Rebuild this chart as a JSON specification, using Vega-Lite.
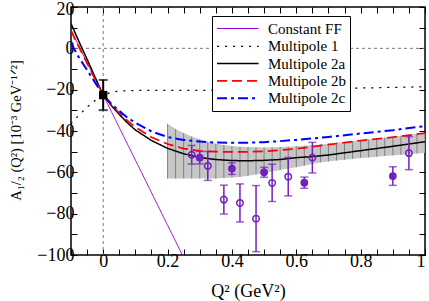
{
  "$schema": "https://vega.github.io/schema/vega-lite/v6.json",
  "width": 354,
  "height": 248,
  "autosize": {"type": "none"},
  "padding": {"left": 71, "top": 7, "right": 4, "bottom": 46},
  "background": "white",
  "config": {
    "view": {"stroke": "black", "strokeWidth": 1.5},
    "font": "Liberation Serif, Times New Roman, serif",
    "axis": {
      "labelFont": "Liberation Serif, Times New Roman, serif",
      "labelFontSize": 18,
      "labelColor": "black",
      "titleFont": "Liberation Serif, Times New Roman, serif",
      "titleFontSize": 18,
      "titleFontWeight": "normal",
      "titleColor": "black",
      "tickColor": "black",
      "tickSize": -6,
      "tickWidth": 1,
      "labelPadding": 3,
      "domain": false,
      "grid": false
    },
    "legend": {
      "orient": "none",
      "legendX": 141,
      "legendY": 9,
      "title": null,
      "strokeColor": "black",
      "fillColor": "white",
      "padding": 4,
      "symbolType": "M-1,0H4.2",
      "symbolSize": 256,
      "labelFont": "Liberation Serif, Times New Roman, serif",
      "labelFontSize": 15,
      "labelColor": "black",
      "labelOffset": 34,
      "rowPadding": 0.3
    }
  },
  "datasets": {
    "band": [
      {"q2": 0.2, "hi": -36.5, "lo": -63},
      {"q2": 0.225, "hi": -39, "lo": -63},
      {"q2": 0.25, "hi": -41, "lo": -63},
      {"q2": 0.275, "hi": -42.7, "lo": -63},
      {"q2": 0.3, "hi": -44, "lo": -63},
      {"q2": 0.325, "hi": -45.2, "lo": -63},
      {"q2": 0.35, "hi": -46.2, "lo": -63},
      {"q2": 0.375, "hi": -46.8, "lo": -62.8},
      {"q2": 0.4, "hi": -47.3, "lo": -62.5},
      {"q2": 0.425, "hi": -47.6, "lo": -62.2},
      {"q2": 0.45, "hi": -47.8, "lo": -61.6},
      {"q2": 0.475, "hi": -47.9, "lo": -61},
      {"q2": 0.5, "hi": -48, "lo": -60.3},
      {"q2": 0.525, "hi": -47.9, "lo": -59.6},
      {"q2": 0.55, "hi": -47.8, "lo": -58.9},
      {"q2": 0.575, "hi": -47.6, "lo": -58.2},
      {"q2": 0.6, "hi": -47.4, "lo": -57.5},
      {"q2": 0.625, "hi": -47.1, "lo": -56.8},
      {"q2": 0.65, "hi": -46.8, "lo": -56},
      {"q2": 0.675, "hi": -46.5, "lo": -55.2},
      {"q2": 0.7, "hi": -46.1, "lo": -54.7},
      {"q2": 0.725, "hi": -45.7, "lo": -54.3},
      {"q2": 0.75, "hi": -45.3, "lo": -53.9},
      {"q2": 0.775, "hi": -44.9, "lo": -53.5},
      {"q2": 0.8, "hi": -44.5, "lo": -53.1},
      {"q2": 0.825, "hi": -44.1, "lo": -52.8},
      {"q2": 0.85, "hi": -43.7, "lo": -52.5},
      {"q2": 0.875, "hi": -43.2, "lo": -52.1},
      {"q2": 0.9, "hi": -42.8, "lo": -51.8},
      {"q2": 0.925, "hi": -42.3, "lo": -51.5},
      {"q2": 0.95, "hi": -41.8, "lo": -51.2},
      {"q2": 0.975, "hi": -41.2, "lo": -50.9},
      {"q2": 1.0, "hi": -40.7, "lo": -50.6}
    ],
    "curves": [
      {"series": "Constant FF", "q2": -0.1, "a": 8.9},
      {"series": "Constant FF", "q2": 0, "a": -22.6},
      {"series": "Constant FF", "q2": 0.246, "a": -100},
      {"series": "Multipole 1", "q2": -0.1, "a": -36.5},
      {"series": "Multipole 1", "q2": -0.075, "a": -32.3},
      {"series": "Multipole 1", "q2": -0.05, "a": -28.5},
      {"series": "Multipole 1", "q2": -0.025, "a": -25.2},
      {"series": "Multipole 1", "q2": 0, "a": -22.6},
      {"series": "Multipole 1", "q2": 0.025, "a": -21.3},
      {"series": "Multipole 1", "q2": 0.05, "a": -20.7},
      {"series": "Multipole 1", "q2": 0.1, "a": -20.4},
      {"series": "Multipole 1", "q2": 0.2, "a": -20.3},
      {"series": "Multipole 1", "q2": 0.3, "a": -20.3},
      {"series": "Multipole 1", "q2": 0.4, "a": -20.2},
      {"series": "Multipole 1", "q2": 0.5, "a": -20.0},
      {"series": "Multipole 1", "q2": 0.6, "a": -19.8},
      {"series": "Multipole 1", "q2": 0.7, "a": -19.5},
      {"series": "Multipole 1", "q2": 0.8, "a": -19.2},
      {"series": "Multipole 1", "q2": 0.9, "a": -18.9},
      {"series": "Multipole 1", "q2": 1.0, "a": -18.6},
      {"series": "Multipole 2a", "q2": -0.1, "a": 12},
      {"series": "Multipole 2a", "q2": -0.075, "a": 3.2},
      {"series": "Multipole 2a", "q2": -0.05, "a": -5.3},
      {"series": "Multipole 2a", "q2": -0.025, "a": -14},
      {"series": "Multipole 2a", "q2": 0, "a": -22.6},
      {"series": "Multipole 2a", "q2": 0.025, "a": -27.6},
      {"series": "Multipole 2a", "q2": 0.05, "a": -32},
      {"series": "Multipole 2a", "q2": 0.075, "a": -36},
      {"series": "Multipole 2a", "q2": 0.1, "a": -39.5},
      {"series": "Multipole 2a", "q2": 0.15, "a": -44.6},
      {"series": "Multipole 2a", "q2": 0.2, "a": -48.4},
      {"series": "Multipole 2a", "q2": 0.25, "a": -51},
      {"series": "Multipole 2a", "q2": 0.3, "a": -52.8},
      {"series": "Multipole 2a", "q2": 0.35, "a": -53.8},
      {"series": "Multipole 2a", "q2": 0.4, "a": -54.3},
      {"series": "Multipole 2a", "q2": 0.45, "a": -54.4},
      {"series": "Multipole 2a", "q2": 0.5, "a": -54.2},
      {"series": "Multipole 2a", "q2": 0.55, "a": -53.8},
      {"series": "Multipole 2a", "q2": 0.6, "a": -52.9},
      {"series": "Multipole 2a", "q2": 0.65, "a": -52.4},
      {"series": "Multipole 2a", "q2": 0.7, "a": -51.6},
      {"series": "Multipole 2a", "q2": 0.8, "a": -49.5},
      {"series": "Multipole 2a", "q2": 0.9, "a": -47.4},
      {"series": "Multipole 2a", "q2": 1.0, "a": -45.2},
      {"series": "Multipole 2b", "q2": -0.1, "a": 8.5},
      {"series": "Multipole 2b", "q2": -0.075, "a": 0.5},
      {"series": "Multipole 2b", "q2": -0.05, "a": -7.3},
      {"series": "Multipole 2b", "q2": -0.025, "a": -15},
      {"series": "Multipole 2b", "q2": 0, "a": -22.6},
      {"series": "Multipole 2b", "q2": 0.025, "a": -27.3},
      {"series": "Multipole 2b", "q2": 0.05, "a": -31.3},
      {"series": "Multipole 2b", "q2": 0.075, "a": -35},
      {"series": "Multipole 2b", "q2": 0.1, "a": -38.2},
      {"series": "Multipole 2b", "q2": 0.15, "a": -43},
      {"series": "Multipole 2b", "q2": 0.2, "a": -46.3},
      {"series": "Multipole 2b", "q2": 0.25, "a": -48.5},
      {"series": "Multipole 2b", "q2": 0.3, "a": -49.6},
      {"series": "Multipole 2b", "q2": 0.35, "a": -50},
      {"series": "Multipole 2b", "q2": 0.4, "a": -50.1},
      {"series": "Multipole 2b", "q2": 0.45, "a": -50.1},
      {"series": "Multipole 2b", "q2": 0.5, "a": -49.9},
      {"series": "Multipole 2b", "q2": 0.55, "a": -49.3},
      {"series": "Multipole 2b", "q2": 0.6, "a": -48.6},
      {"series": "Multipole 2b", "q2": 0.65, "a": -47.6},
      {"series": "Multipole 2b", "q2": 0.7, "a": -46.6},
      {"series": "Multipole 2b", "q2": 0.8, "a": -44.6},
      {"series": "Multipole 2b", "q2": 0.9, "a": -43},
      {"series": "Multipole 2b", "q2": 1.0, "a": -41},
      {"series": "Multipole 2c", "q2": -0.1, "a": 2.5},
      {"series": "Multipole 2c", "q2": -0.075, "a": -4.5},
      {"series": "Multipole 2c", "q2": -0.05, "a": -10.5},
      {"series": "Multipole 2c", "q2": -0.025, "a": -16.6},
      {"series": "Multipole 2c", "q2": 0, "a": -22.6},
      {"series": "Multipole 2c", "q2": 0.025, "a": -26.8},
      {"series": "Multipole 2c", "q2": 0.05, "a": -30.3},
      {"series": "Multipole 2c", "q2": 0.075, "a": -33.5},
      {"series": "Multipole 2c", "q2": 0.1, "a": -36},
      {"series": "Multipole 2c", "q2": 0.15, "a": -40.2},
      {"series": "Multipole 2c", "q2": 0.2, "a": -42.9},
      {"series": "Multipole 2c", "q2": 0.25, "a": -44.3},
      {"series": "Multipole 2c", "q2": 0.3, "a": -45.1},
      {"series": "Multipole 2c", "q2": 0.35, "a": -45.6},
      {"series": "Multipole 2c", "q2": 0.4, "a": -45.7},
      {"series": "Multipole 2c", "q2": 0.45, "a": -45.7},
      {"series": "Multipole 2c", "q2": 0.5, "a": -45.4},
      {"series": "Multipole 2c", "q2": 0.55, "a": -44.9},
      {"series": "Multipole 2c", "q2": 0.6, "a": -44.3},
      {"series": "Multipole 2c", "q2": 0.65, "a": -43.6},
      {"series": "Multipole 2c", "q2": 0.7, "a": -42.9},
      {"series": "Multipole 2c", "q2": 0.8, "a": -41.2},
      {"series": "Multipole 2c", "q2": 0.9, "a": -39.6},
      {"series": "Multipole 2c", "q2": 1.0, "a": -37.6}
    ],
    "pts": [
      {"q2": 0.275, "a": -51.5, "err": 4.5, "kind": "open"},
      {"q2": 0.325, "a": -56.9, "err": 7, "kind": "open"},
      {"q2": 0.375, "a": -73.2, "err": 7, "kind": "open"},
      {"q2": 0.425, "a": -74.8, "err": 9.2, "kind": "open"},
      {"q2": 0.475, "a": -82.4, "err": 16, "kind": "open"},
      {"q2": 0.525, "a": -65.1, "err": 9, "kind": "open"},
      {"q2": 0.575, "a": -62.1, "err": 9.3, "kind": "open"},
      {"q2": 0.65, "a": -52.9, "err": 7.4, "kind": "open"},
      {"q2": 0.95, "a": -50.7, "err": 8, "kind": "open"},
      {"q2": 0.3, "a": -52.9, "err": 3, "kind": "filled"},
      {"q2": 0.4, "a": -58.2, "err": 2.8, "kind": "filled"},
      {"q2": 0.5, "a": -60, "err": 2.4, "kind": "filled"},
      {"q2": 0.625, "a": -65, "err": 2.7, "kind": "filled"},
      {"q2": 0.9, "a": -61.8, "err": 4.5, "kind": "filled"}
    ],
    "ref": [
      {"q2": 0, "a": -22.6, "err": 7.3}
    ]
  },
  "layer": [
    {
      "data": {"name": "band"},
      "mark": {"type": "area", "fill": "#c6c6c6", "stroke": null, "clip": true},
      "encoding": {
        "x": {
          "field": "q2", "type": "quantitative",
          "scale": {"domain": [-0.1, 1], "nice": false, "zero": false},
          "axis": {
            "orient": "bottom",
            "values": [-0.1, -0.05, 0, 0.05, 0.1, 0.15, 0.2, 0.25, 0.3, 0.35, 0.4, 0.45, 0.5, 0.55, 0.6, 0.65, 0.7, 0.75, 0.8, 0.85, 0.9, 0.95, 1],
            "format": "~g",
            "labelExpr": "abs(round(datum.value*5) - datum.value*5) < 0.001 ? datum.label : ''",
            "title": "Q² (GeV²)",
            "titleBaseline": "alphabetic",
            "titleY": 41
          }
        },
        "y": {
          "field": "lo", "type": "quantitative",
          "scale": {"domain": [-100, 20], "nice": false, "zero": false},
          "axis": {
            "orient": "left",
            "values": [-100, -90, -80, -70, -60, -50, -40, -30, -20, -10, 0, 10, 20],
            "labelExpr": "datum.value % 20 == 0 ? datum.label : ''",
            "labelOffset": {"condition": {"test": "datum.value == 20", "value": 2.5}, "value": 0},
            "title": "A₁/₂ (Q²) [10⁻³ GeV⁻¹ᐟ²]",
            "titleFontSize": 14.5,
            "titleAngle": -90,
            "titleBaseline": "alphabetic",
            "titleAlign": "center",
            "titleX": -51,
            "titleY": 123
          }
        },
        "y2": {"field": "hi"}
      }
    },
    {
      "data": {"name": "band"},
      "mark": {"type": "rule", "color": "#6e6e6e", "strokeWidth": 0.8, "clip": true},
      "encoding": {
        "x": {"field": "q2", "type": "quantitative", "axis": null},
        "y": {"field": "lo", "type": "quantitative", "axis": null},
        "y2": {"field": "hi"}
      }
    },
    {
      "data": {"values": [{}]},
      "mark": {"type": "rule", "color": "#777777", "strokeDash": [3, 3], "strokeWidth": 1},
      "encoding": {
        "x": {
          "datum": 0, "type": "quantitative",
          "axis": {"orient": "top", "labels": false, "title": null,
                   "values": [-0.1, -0.05, 0, 0.05, 0.1, 0.15, 0.2, 0.25, 0.3, 0.35, 0.4, 0.45, 0.5, 0.55, 0.6, 0.65, 0.7, 0.75, 0.8, 0.85, 0.9, 0.95, 1]}
        }
      }
    },
    {
      "data": {"values": [{}]},
      "mark": {"type": "rule", "color": "#777777", "strokeDash": [3, 3], "strokeWidth": 1},
      "encoding": {
        "y": {
          "datum": 0, "type": "quantitative",
          "axis": {"orient": "right", "labels": false, "title": null,
                   "values": [-100, -90, -80, -70, -60, -50, -40, -30, -20, -10, 0, 10, 20]}
        }
      }
    },
    {
      "data": {"name": "curves"},
      "mark": {"type": "line", "strokeCap": "butt", "clip": true},
      "encoding": {
        "x": {"field": "q2", "type": "quantitative", "axis": null},
        "y": {"field": "a", "type": "quantitative", "axis": null},
        "color": {
          "field": "series", "type": "nominal",
          "scale": {"domain": ["Constant FF", "Multipole 1", "Multipole 2a", "Multipole 2b", "Multipole 2c"],
                    "range": ["#9400d3", "#000000", "#000000", "#ff0000", "#0000ff"]}
        },
        "strokeDash": {
          "field": "series", "type": "nominal",
          "scale": {"domain": ["Constant FF", "Multipole 1", "Multipole 2a", "Multipole 2b", "Multipole 2c"],
                    "range": [[1, 0], [2, 6], [1, 0], [10, 5], [10, 4, 3, 4]]}
        },
        "strokeWidth": {
          "field": "series", "type": "nominal",
          "scale": {"domain": ["Constant FF", "Multipole 1", "Multipole 2a", "Multipole 2b", "Multipole 2c"],
                    "range": [1, 2, 2, 2, 2]}
        }
      }
    },
    {
      "data": {"name": "pts"},
      "mark": {"type": "errorbar", "ticks": true, "color": "#7221bc", "thickness": 1.5, "size": 8},
      "encoding": {
        "x": {"field": "q2", "type": "quantitative", "axis": null},
        "y": {"field": "a", "type": "quantitative", "axis": null},
        "yError": {"field": "err"}
      }
    },
    {
      "data": {"name": "pts"},
      "transform": [{"filter": "datum.kind == 'open'"}],
      "mark": {"type": "point", "shape": "circle", "filled": false, "fill": "white", "fillOpacity": 0, "stroke": "#7221bc", "strokeWidth": 1.5, "size": 42, "opacity": 1},
      "encoding": {
        "x": {"field": "q2", "type": "quantitative", "axis": null},
        "y": {"field": "a", "type": "quantitative", "axis": null}
      }
    },
    {
      "data": {"name": "pts"},
      "transform": [{"filter": "datum.kind == 'filled'"}],
      "mark": {"type": "point", "shape": "circle", "filled": true, "color": "#7221bc", "size": 60, "opacity": 1},
      "encoding": {
        "x": {"field": "q2", "type": "quantitative", "axis": null},
        "y": {"field": "a", "type": "quantitative", "axis": null}
      }
    },
    {
      "data": {"name": "ref"},
      "mark": {"type": "errorbar", "ticks": true, "color": "#000000", "thickness": 2, "size": 9},
      "encoding": {
        "x": {"field": "q2", "type": "quantitative", "axis": null},
        "y": {"field": "a", "type": "quantitative", "axis": null},
        "yError": {"field": "err"}
      }
    },
    {
      "data": {"name": "ref"},
      "mark": {"type": "point", "shape": "square", "filled": true, "color": "#000000", "size": 70, "opacity": 1},
      "encoding": {
        "x": {"field": "q2", "type": "quantitative", "axis": null},
        "y": {"field": "a", "type": "quantitative", "axis": null}
      }
    }
  ],
  "resolve": {"axis": {"x": "independent", "y": "independent"}}
}
